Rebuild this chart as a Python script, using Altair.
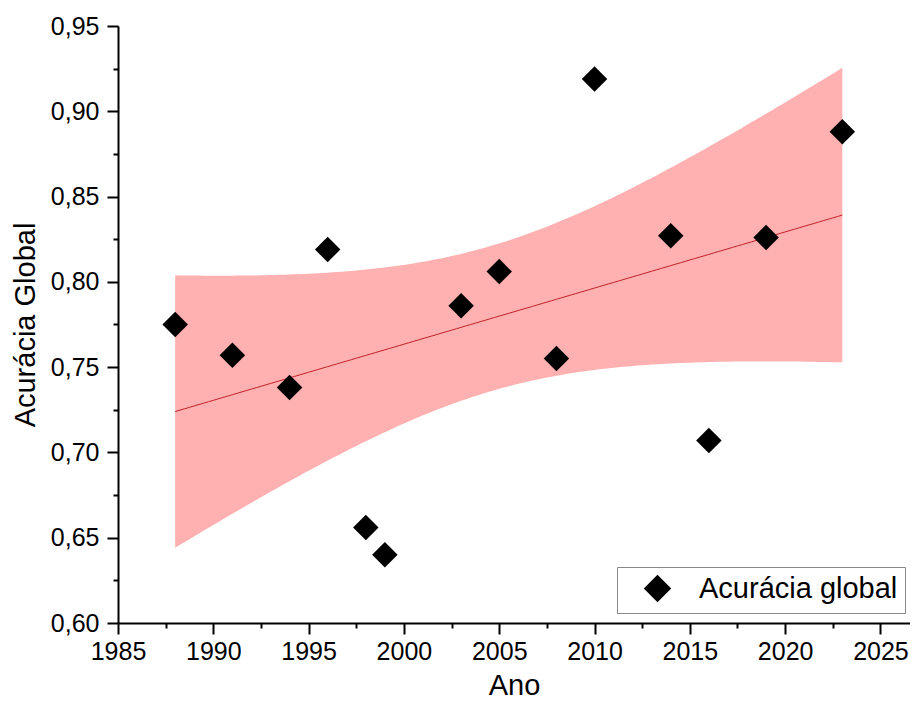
import numpy as np
import pandas as pd
import altair as alt

# Data
years = [1988, 1991, 1994, 1996, 1998, 1999, 2003, 2005, 2008, 2010, 2014, 2016, 2019, 2023]
accuracy = [0.775, 0.757, 0.738, 0.819, 0.656, 0.640, 0.786, 0.806, 0.755, 0.919, 0.827, 0.707, 0.826, 0.888]
series_name = "Acurácia global"

y_major = [0.60, 0.65, 0.70, 0.75, 0.80, 0.85, 0.90, 0.95]
y_minor = [0.625, 0.675, 0.725, 0.775, 0.825, 0.875, 0.925]
x_major = [1985, 1990, 1995, 2000, 2005, 2010, 2015, 2020, 2025]
x_minor = [1987.5, 1992.5, 1997.5, 2002.5, 2007.5, 2012.5, 2017.5, 2022.5]
x_domain = [1985, 2026.55]
y_domain = [0.60, 0.95]

df = pd.DataFrame({"ano": years, "acc": accuracy, "serie": series_name})

# Linear fit with 95% confidence band of the mean, derived from the data
x = np.array(years, dtype=float)
y = np.array(accuracy)
n = len(x)
xm = x.mean()
sxx = ((x - xm) ** 2).sum()
slope = ((x - xm) * (y - y.mean())).sum() / sxx
intercept = y.mean() - slope * xm
resid = y - (intercept + slope * x)
s = np.sqrt((resid ** 2).sum() / (n - 2))
t95 = 2.179  # t(0.975, df=12)
xs = np.linspace(x.min(), x.max(), 141)
fit = intercept + slope * xs
half = t95 * s * np.sqrt(1.0 / n + (xs - xm) ** 2 / sxx)
band = pd.DataFrame({"ano": xs, "fit": fit, "lo": fit - half, "hi": fit + half})

FONT = "Liberation Sans"
xscale = alt.Scale(domain=x_domain, nice=False, zero=False)
yscale = alt.Scale(domain=y_domain, nice=False, zero=False)

x_axis_major = alt.Axis(values=x_major, format="d", title="Ano", orient="bottom",
                        labelFontSize=25, titleFontSize=29, labelFont=FONT, titleFont=FONT,
                        labelColor="black", titleColor="black", titleFontWeight="normal",
                        domainColor="black", domainWidth=2, tickColor="black", tickWidth=2,
                        tickSize=11, labelPadding=5, titlePadding=7, grid=False,
                        labelFlush=False)
y_axis_major = alt.Axis(values=y_major, title="Acurácia Global", orient="left",
                        labelExpr="replace(format(datum.value, '.2f'), '.', ',')",
                        labelFontSize=25, titleFontSize=29, labelFont=FONT, titleFont=FONT,
                        labelColor="black", titleColor="black", titleFontWeight="normal",
                        domainColor="black", domainWidth=2, tickColor="black", tickWidth=2,
                        tickSize=11, labelPadding=8, titlePadding=10, grid=False,
                        labelFlush=False)
x_axis_minor = alt.Axis(values=x_minor, labels=False, title=None, orient="bottom",
                        domain=False, tickColor="black", tickWidth=2, tickSize=5, grid=False)
y_axis_minor = alt.Axis(values=y_minor, labels=False, title=None, orient="left",
                        domain=False, tickColor="black", tickWidth=2, tickSize=5, grid=False)

band_layer = alt.Chart(band).mark_area(color="#ffb0b0", opacity=1).encode(
    x=alt.X("ano:Q", scale=xscale, axis=x_axis_major),
    y=alt.Y("lo:Q", scale=yscale, axis=y_axis_major),
    y2="hi:Q",
)

line_layer = alt.Chart(band).mark_line(color="#c0202a", strokeWidth=1).encode(
    x=alt.X("ano:Q", scale=xscale, axis=x_axis_minor),
    y=alt.Y("fit:Q", scale=yscale, axis=y_axis_minor),
)

points = alt.Chart(df).mark_point(filled=True, size=650, opacity=1, color="black").encode(
    x=alt.X("ano:Q", scale=xscale, axis=None),
    y=alt.Y("acc:Q", scale=yscale, axis=None),
    shape=alt.Shape("serie:N", scale=alt.Scale(domain=[series_name], range=["diamond"]),
                    legend=alt.Legend(title=None, orient="none", legendX=499, legendY=541,
                                      labelFontSize=29, labelFont=FONT, labelColor="black",
                                      labelLimit=600,
                                      symbolSize=750, symbolType="diamond",
                                      symbolFillColor="black", symbolStrokeColor="black",
                                      symbolOpacity=1,
                                      strokeColor="#888888", padding=7,
                                      symbolOffset=19, labelOffset=27, fillColor="white")),
)

chart = alt.layer(band_layer, line_layer, points).resolve_axis(
    x="independent", y="independent"
).properties(
    width=792, height=597,
    autosize=alt.AutoSizeParams(type="none"),
    padding={"left": 110, "top": 18, "right": 0, "bottom": 76},
).configure_view(stroke=None)

chart.save("out.html", embed_options={"renderer": "svg", "actions": False})
